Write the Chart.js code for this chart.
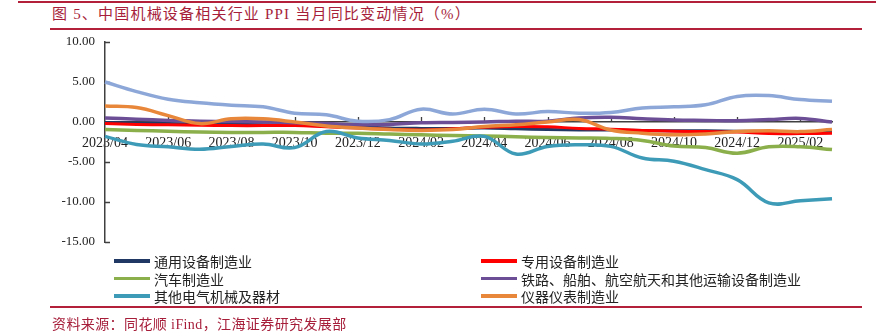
<!DOCTYPE html>
<html>
<head>
<meta charset="utf-8">
<script src="https://cdn.jsdelivr.net/npm/chart.js@4/dist/chart.umd.min.js"></script>
<style>
  html, body { margin: 0; padding: 0; background: #fff; }
  #wrap { position: relative; width: 876px; height: 332px; overflow: hidden;
          font-family: "Liberation Serif", "Noto Sans CJK SC", serif; }
  #chart { position: absolute; left: 0; top: 0; }
  .rule { position: absolute; height: 1.5px; background: #B3203A; }
  .title { position: absolute; left: 52px; top: 4px; font-size: 15px; line-height: 20px;
           color: #A61E3A; letter-spacing: 1.2px; white-space: nowrap; }
  .source { position: absolute; left: 52px; top: 316px; font-size: 14px; line-height: 18px;
            color: #A61E3A; letter-spacing: 0.4px; white-space: nowrap; }
  .legend-item { position: absolute; display: flex; align-items: center; height: 17px;
                 font-size: 14px; color: #222; white-space: nowrap; }
  .swatch { width: 36px; height: 3.5px; margin-right: 4px; }
</style>
</head>
<body>
<div id="wrap">
  <div class="rule" style="left:18px; right:0; top:1px;"></div>
  <div class="title">图 5、中国机械设备相关行业 PPI 当月同比变动情况（%）</div>
  <div class="rule" style="left:50px; right:14px; top:28px;"></div>
  <canvas id="chart" width="876" height="332"></canvas>
  <div id="legend"></div>
  <div class="rule" style="left:50px; right:14px; top:306px;"></div>
  <div class="source">资料来源：同花顺 iFind，江海证券研究发展部</div>
</div>
<script>
// Months, 2023/04 – 2025/03
const months = [
  '2023/04','2023/05','2023/06','2023/07','2023/08','2023/09','2023/10','2023/11','2023/12',
  '2024/01','2024/02','2024/03','2024/04','2024/05','2024/06','2024/07','2024/08','2024/09',
  '2024/10','2024/11','2024/12','2025/01','2025/02','2025/03'
];

// PPI year-on-year change (%)
const generalEquipment = [-0.05,-0.15,-0.2,-0.3,-0.3,-0.35,-0.4,-0.5,-0.6,-0.75,-0.8,-0.8,
  -0.75,-0.85,-0.95,-1.0,-1.0,-1.05,-1.1,-1.1,-1.15,-1.2,-1.3,-1.3];
const specialEquipment = [-0.2,-0.3,-0.35,-0.4,-0.45,-0.45,-0.45,-0.6,-0.75,-0.9,-1.0,-0.85,
  -0.65,-0.55,-0.6,-0.8,-0.9,-1.05,-1.15,-1.2,-1.25,-1.45,-1.45,-1.4];
const automobile = [-0.95,-1.05,-1.15,-1.25,-1.3,-1.3,-1.3,-1.4,-1.4,-1.5,-1.6,-1.7,
  -1.75,-1.85,-1.95,-2.0,-2.05,-2.3,-3.0,-3.2,-3.9,-3.1,-3.1,-3.45];
const railShipAero = [0.5,0.35,0.2,0.1,0.05,0.0,-0.1,-0.2,-0.35,-0.3,-0.1,-0.05,
  0.0,0.1,0.1,0.5,0.6,0.4,0.25,0.2,0.15,0.3,0.45,0.0];
const electricalMachinery = [-1.8,-2.8,-3.1,-3.4,-3.05,-2.75,-3.2,-1.2,-2.0,-2.3,-2.75,-2.4,
  -1.8,-4.0,-3.05,-2.85,-3.05,-4.5,-4.9,-5.95,-7.2,-10.1,-9.85,-9.6];
const instruments = [2.0,1.8,0.8,-0.2,0.4,0.4,0.0,-0.5,-0.75,-0.95,-1.05,-0.95,
  -0.55,-0.35,0.0,0.3,-1.0,-1.4,-1.6,-1.5,-1.2,-1.1,-1.2,-0.95];
// extra series drawn without a legend entry
const unlabeledSeries = [5.0,3.8,2.85,2.4,2.1,1.9,1.1,0.9,0.1,0.3,1.6,1.0,
  1.6,1.0,1.3,1.1,1.2,1.75,1.9,2.15,3.2,3.3,2.8,2.6];

const yTickValues = [10, 5, 0, -5, -10, -15];

const seriesDefs = [
  { label: '通用设备制造业', data: generalEquipment, color: '#203864', width: 3, legend: [0, 0] },
  { label: '专用设备制造业', data: specialEquipment, color: '#FF0000', width: 3, legend: [1, 0] },
  { label: '汽车制造业', data: automobile, color: '#8AAF4B', width: 3.5, legend: [0, 1] },
  { label: '铁路、船舶、航空航天和其他运输设备制造业', data: railShipAero, color: '#6B4E96', width: 3.5, legend: [1, 1] },
  { label: '其他电气机械及器材', data: electricalMachinery, color: '#3E9BB7', width: 3.5, legend: [0, 2] },
  { label: '仪器仪表制造业', data: instruments, color: '#E8873A', width: 3.5, legend: [1, 2] },
  { label: '', data: unlabeledSeries, color: '#8DA8D8', width: 3.5, legend: null }
];

// HTML legend in two columns
const legendEl = document.getElementById('legend');
const colX = [114, 481];
const rowY = [261, 278.5, 296];
seriesDefs.forEach(s => {
  if (!s.legend) return;
  const item = document.createElement('div');
  item.className = 'legend-item';
  item.style.left = colX[s.legend[0]] + 'px';
  item.style.top = (rowY[s.legend[1]] - 8.5) + 'px';
  const sw = document.createElement('span');
  sw.className = 'swatch';
  sw.style.background = s.color;
  const tx = document.createElement('span');
  tx.textContent = s.label;
  item.appendChild(sw);
  item.appendChild(tx);
  legendEl.appendChild(item);
});

// short inward tick marks on both axes
const axisTicks = {
  id: 'axisTicks',
  beforeDatasetsDraw(chart) {
    const { ctx, chartArea, scales: { x, y } } = chart;
    const y0 = y.getPixelForValue(0);
    ctx.save();
    ctx.strokeStyle = '#404040';
    ctx.lineWidth = 1.3;
    ctx.beginPath();
    months.forEach((m, i) => {
      if (i > 0 && i % 2 === 0) {
        const px = Math.round(x.getPixelForValue(i)) + 0.5;
        ctx.moveTo(px, y0);
        ctx.lineTo(px, y0 - 5);
      }
    });
    yTickValues.forEach(v => {
      const py = Math.round(y.getPixelForValue(v)) + 0.5;
      ctx.moveTo(chartArea.left, py);
      ctx.lineTo(chartArea.left + 5, py);
    });
    ctx.stroke();
    ctx.restore();
  }
};

new Chart(document.getElementById('chart'), {
  type: 'line',
  data: {
    labels: months,
    datasets: seriesDefs.map((s, i) => ({
      label: s.label,
      data: s.data,
      borderColor: s.color,
      backgroundColor: s.color,
      borderWidth: s.width,
      pointRadius: 0,
      tension: 0.4,
      fill: false,
      order: 10 - i
    }))
  },
  options: {
    responsive: false,
    animation: false,
    devicePixelRatio: 1,
    layout: { padding: { left: 0, top: 42, right: 44, bottom: 90 } },
    plugins: { legend: { display: false }, tooltip: { enabled: false } },
    scales: {
      x: {
        position: { y: 0 },
        offset: false,
        grid: { display: false, drawTicks: false },
        border: { display: true, color: '#404040', width: 1.5 },
        ticks: {
          autoSkip: false,
          maxRotation: 0,
          padding: 13,
          color: '#222',
          font: { family: 'Liberation Serif', size: 14 },
          callback: (v, i) => (i % 2 === 0 ? months[i] : '')
        }
      },
      y: {
        min: -15,
        max: 10,
        afterBuildTicks: s => { s.ticks = yTickValues.map(v => ({ value: v })); },
        afterFit: s => { s.width = 105; },
        grid: { display: false, drawTicks: false },
        border: { display: true, color: '#404040', width: 1.5 },
        ticks: {
          padding: 10,
          color: '#222',
          font: { family: 'Liberation Serif', size: 13 },
          callback: v => Number(v).toFixed(2)
        }
      }
    }
  },
  plugins: [axisTicks]
});
</script>
</body>
</html>
